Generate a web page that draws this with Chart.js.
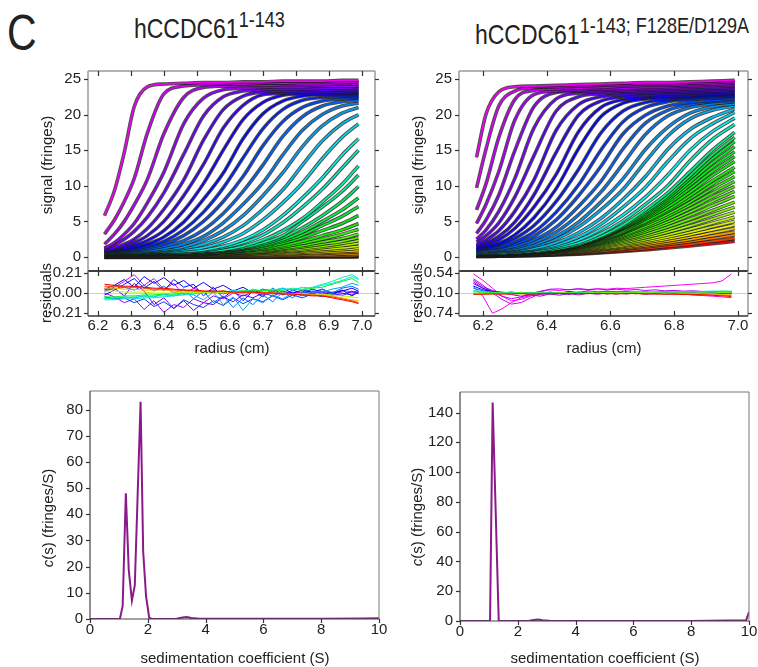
<!DOCTYPE html>
<html><head><meta charset="utf-8">
<script src="https://cdn.jsdelivr.net/npm/chart.js@4.4.1/dist/chart.umd.min.js"></script>
<style>
body{margin:0;background:#fff;width:758px;height:667px;position:relative;overflow:hidden;font-family:"Liberation Sans",Arial,sans-serif;color:#222}
canvas{position:absolute}
.t{position:absolute;white-space:nowrap;line-height:1;transform:scaleX(.82);transform-origin:0 0}
.c{position:absolute;white-space:nowrap;line-height:1;transform:translate(-50%,-50%);font-size:15px}
.v{position:absolute;white-space:nowrap;line-height:1;transform:translate(-50%,-50%) rotate(-90deg);font-size:15px}
.sup{font-size:22px;position:relative;top:-11px}
</style></head><body>
<div class="t" style="left:7px;top:8px;font-size:50px">C</div>
<div class="t" style="left:134px;top:15px;font-size:28px">hCCDC61<span class="sup">1-143</span></div>
<div class="t" style="left:475px;top:21px;font-size:28px">hCCDC61<span class="sup">1-143; F128E/D129A</span></div>
<canvas id="sigL"></canvas><canvas id="resL"></canvas><canvas id="sigR"></canvas><canvas id="resR"></canvas>
<canvas id="csL"></canvas><canvas id="csR"></canvas>
<div class="v" style="left:46px;top:165px">signal (fringes)</div>
<div class="v" style="left:417px;top:165px">signal (fringes)</div>
<div class="v" style="left:45px;top:293px">residuals</div>
<div class="v" style="left:416px;top:293px">residuals</div>
<div class="c" style="left:232px;top:347px">radius (cm)</div>
<div class="c" style="left:604px;top:347px">radius (cm)</div>
<div class="v" style="left:47px;top:518px"><i>c</i>(s) (fringes/S)</div>
<div class="v" style="left:416px;top:517px"><i>c</i>(s) (fringes/S)</div>
<div class="c" style="left:235px;top:657px">sedimentation coefficient (S)</div>
<div class="c" style="left:605px;top:657px">sedimentation coefficient (S)</div>
<script>
// ---------- data ----------
const radiusLeft = [6.22, 6.25, 6.28, 6.31, 6.35, 6.40, 6.46, 6.52, 6.58, 6.64, 6.70, 6.76, 6.82, 6.88, 6.94, 6.99];
const scansLeft = [
[5.8, 9.3, 14.7, 21.1, 23.9, 24.3, 24.4, 24.5, 24.5, 24.6, 24.6, 24.7, 24.7, 24.7, 24.8, 24.8],
[3.2, 5.2, 7.8, 11.0, 17.4, 22.9, 24.0, 24.2, 24.3, 24.3, 24.4, 24.4, 24.5, 24.5, 24.5, 24.6],
[1.8, 3.2, 5.0, 7.3, 10.9, 17.3, 22.4, 23.8, 24.0, 24.1, 24.1, 24.2, 24.2, 24.2, 24.3, 24.3],
[1.2, 2.0, 3.2, 4.7, 7.6, 11.9, 18.7, 22.3, 23.5, 23.7, 23.8, 23.9, 23.9, 24.0, 24.0, 24.0],
[1.2, 1.7, 2.5, 3.6, 5.6, 9.0, 14.4, 19.8, 22.5, 23.3, 23.5, 23.6, 23.6, 23.7, 23.7, 23.8],
[1.0, 1.3, 1.8, 2.5, 4.0, 6.7, 10.8, 16.4, 20.7, 22.6, 23.2, 23.3, 23.4, 23.4, 23.5, 23.5],
[0.9, 1.1, 1.5, 2.0, 3.0, 5.0, 8.6, 13.0, 18.1, 21.3, 22.8, 23.0, 23.1, 23.2, 23.2, 23.3],
[0.9, 1.0, 1.2, 1.6, 2.3, 3.7, 6.5, 10.3, 15.0, 19.3, 21.7, 22.7, 22.9, 22.9, 23.0, 23.0],
[0.9, 1.0, 1.1, 1.3, 1.8, 2.8, 4.9, 8.1, 11.8, 16.6, 20.1, 21.9, 22.6, 22.8, 22.8, 22.8],
[0.9, 0.9, 1.0, 1.1, 1.5, 2.2, 3.8, 6.3, 9.7, 13.9, 18.0, 20.7, 22.0, 22.4, 22.5, 22.5],
[0.8, 0.9, 0.9, 1.0, 1.3, 1.8, 3.0, 5.0, 7.8, 11.3, 15.6, 19.0, 21.0, 21.9, 22.2, 22.3],
[0.8, 0.8, 0.9, 0.9, 1.1, 1.5, 2.3, 3.8, 6.1, 9.2, 12.9, 16.9, 19.7, 21.2, 21.8, 22.0],
[0.8, 0.8, 0.8, 0.9, 0.9, 1.2, 1.8, 2.9, 4.8, 7.4, 10.4, 14.3, 17.8, 20.0, 21.2, 21.6],
[0.7, 0.7, 0.7, 0.8, 0.8, 1.0, 1.4, 2.3, 3.7, 5.8, 8.6, 11.8, 15.5, 18.4, 20.2, 21.0],
[0.7, 0.7, 0.7, 0.7, 0.8, 0.9, 1.2, 1.8, 2.8, 4.4, 6.7, 9.4, 12.9, 16.3, 18.7, 20.0],
[0.7, 0.7, 0.7, 0.7, 0.7, 0.8, 1.0, 1.3, 2.1, 3.3, 5.2, 7.6, 10.4, 13.8, 16.8, 18.7],
[0.6, 0.6, 0.6, 0.6, 0.7, 0.7, 0.8, 1.0, 1.5, 2.4, 3.8, 5.8, 8.3, 11.1, 14.3, 16.6],
[0.6, 0.6, 0.6, 0.6, 0.6, 0.7, 0.7, 0.9, 1.3, 2.0, 3.1, 4.8, 7.0, 9.5, 12.5, 15.0],
[0.55, 0.55, 0.55, 0.6, 0.6, 0.6, 0.6, 0.8, 1.0, 1.5, 2.4, 3.7, 5.4, 7.7, 10.2, 12.8],
[0.5, 0.5, 0.5, 0.5, 0.55, 0.6, 0.7, 0.8, 1.0, 1.3, 2.0, 3.0, 5.0, 7.0, 9.2, 11.5],
[0.47, 0.47, 0.47, 0.48, 0.5, 0.55, 0.6, 0.7, 0.9, 1.2, 1.8, 2.7, 4.1, 5.8, 7.8, 9.9],
[0.44, 0.44, 0.45, 0.46, 0.47, 0.5, 0.55, 0.65, 0.85, 1.15, 1.6, 2.4, 3.5, 5.0, 6.6, 8.3],
[0.4, 0.4, 0.4, 0.42, 0.44, 0.46, 0.5, 0.6, 0.8, 1.1, 1.5, 2.2, 3.1, 4.4, 5.7, 7.1],
[0.38, 0.38, 0.38, 0.39, 0.4, 0.43, 0.47, 0.55, 0.72, 0.95, 1.3, 1.9, 2.7, 3.7, 4.7, 5.8],
[0.35, 0.35, 0.36, 0.36, 0.37, 0.4, 0.44, 0.5, 0.65, 0.85, 1.15, 1.6, 2.2, 3.0, 3.8, 4.7],
[0.3, 0.3, 0.35, 0.35, 0.4, 0.4, 0.5, 0.55, 0.7, 0.85, 1.05, 1.4, 1.9, 2.5, 3.2, 3.9],
[0.3, 0.3, 0.3, 0.3, 0.35, 0.4, 0.45, 0.5, 0.6, 0.75, 0.9, 1.2, 1.6, 2.1, 2.6, 3.2],
[0.25, 0.25, 0.3, 0.3, 0.3, 0.35, 0.4, 0.45, 0.55, 0.65, 0.8, 1.05, 1.4, 1.8, 2.2, 2.7],
[0.23, 0.24, 0.25, 0.27, 0.28, 0.3, 0.35, 0.4, 0.48, 0.58, 0.72, 0.92, 1.18, 1.5, 1.9, 2.3],
[0.2, 0.2, 0.22, 0.24, 0.25, 0.28, 0.32, 0.37, 0.44, 0.52, 0.64, 0.8, 1.0, 1.3, 1.6, 1.9],
[0.17, 0.18, 0.19, 0.2, 0.21, 0.23, 0.27, 0.31, 0.37, 0.44, 0.54, 0.68, 0.85, 1.05, 1.27, 1.5],
[0.14, 0.15, 0.16, 0.17, 0.18, 0.2, 0.23, 0.26, 0.31, 0.37, 0.45, 0.55, 0.68, 0.84, 1.02, 1.2],
[0.11, 0.12, 0.12, 0.13, 0.14, 0.15, 0.17, 0.2, 0.24, 0.28, 0.34, 0.42, 0.52, 0.63, 0.77, 0.9],
[0.08, 0.08, 0.09, 0.09, 0.1, 0.11, 0.13, 0.15, 0.18, 0.22, 0.27, 0.33, 0.41, 0.5, 0.6, 0.7],
[0.05, 0.05, 0.06, 0.06, 0.07, 0.07, 0.08, 0.1, 0.12, 0.14, 0.17, 0.21, 0.26, 0.32, 0.38, 0.45],
[0.02, 0.02, 0.03, 0.03, 0.03, 0.04, 0.04, 0.05, 0.06, 0.07, 0.09, 0.11, 0.14, 0.17, 0.21, 0.25],
[0.0, 0.0, 0.0, 0.01, 0.01, 0.02, 0.02, 0.03, 0.04, 0.05, 0.06, 0.07, 0.09, 0.11, 0.14, 0.17],
[-0.02, -0.02, -0.02, -0.01, -0.01, 0.0, 0.0, 0.01, 0.01, 0.02, 0.03, 0.04, 0.05, 0.07, 0.09, 0.11],
[-0.04, -0.04, -0.03, -0.03, -0.03, -0.02, -0.02, -0.01, -0.01, 0.0, 0.0, 0.01, 0.02, 0.03, 0.04, 0.06],
[-0.06, -0.06, -0.05, -0.05, -0.05, -0.05, -0.04, -0.04, -0.03, -0.03, -0.02, -0.02, -0.01, 0.0, 0.01, 0.02]
];
const radiusRight = [6.18, 6.21, 6.25, 6.30, 6.36, 6.43, 6.50, 6.57, 6.64, 6.71, 6.78, 6.85, 6.92, 6.99];
const scansRight = [
[14.0, 20.1, 23.2, 23.9, 24.0, 24.1, 24.2, 24.3, 24.4, 24.5, 24.5, 24.6, 24.7, 24.8],
[9.7, 15.2, 21.2, 23.3, 23.8, 23.9, 24.0, 24.1, 24.2, 24.3, 24.3, 24.4, 24.5, 24.6],
[6.6, 10.3, 16.8, 22.1, 23.4, 23.6, 23.7, 23.8, 24.0, 24.1, 24.1, 24.2, 24.3, 24.4],
[4.7, 7.4, 12.0, 19.2, 22.8, 23.3, 23.5, 23.6, 23.7, 23.8, 23.9, 24.0, 24.1, 24.2],
[3.3, 5.2, 8.7, 14.9, 21.1, 23.1, 23.3, 23.4, 23.5, 23.6, 23.7, 23.8, 23.9, 24.0],
[2.5, 3.8, 6.4, 11.0, 18.1, 22.2, 23.0, 23.2, 23.3, 23.4, 23.5, 23.6, 23.7, 23.8],
[2.1, 3.0, 4.8, 8.4, 14.2, 20.5, 22.5, 22.9, 23.1, 23.2, 23.3, 23.4, 23.5, 23.6],
[1.7, 2.4, 3.7, 6.4, 10.8, 17.8, 21.4, 22.5, 22.8, 23.0, 23.1, 23.2, 23.3, 23.4],
[1.5, 2.0, 2.9, 4.9, 8.7, 14.7, 19.9, 21.9, 22.5, 22.7, 22.9, 23.0, 23.1, 23.2],
[1.4, 1.7, 2.4, 4.0, 7.0, 11.6, 17.6, 21.0, 22.1, 22.4, 22.6, 22.7, 22.9, 23.0],
[1.2, 1.4, 1.9, 3.1, 5.5, 9.6, 15.2, 19.7, 21.6, 22.2, 22.4, 22.5, 22.7, 22.8],
[1.1, 1.3, 1.7, 2.6, 4.4, 7.8, 12.3, 17.4, 20.5, 21.7, 22.1, 22.3, 22.5, 22.6],
[1.0, 1.2, 1.4, 2.1, 3.5, 6.3, 10.1, 15.0, 19.0, 21.0, 21.8, 22.1, 22.3, 22.4],
[0.9, 1.1, 1.3, 1.8, 2.9, 5.2, 8.6, 12.7, 17.3, 19.9, 21.2, 21.7, 22.0, 22.2],
[0.9, 0.9, 1.1, 1.5, 2.4, 4.2, 7.1, 10.6, 15.2, 18.8, 20.6, 21.4, 21.8, 22.0],
[0.8, 0.8, 1.0, 1.3, 2.0, 3.5, 5.9, 9.1, 13.1, 17.2, 19.8, 21.0, 21.5, 21.8],
[0.7, 0.8, 0.9, 1.1, 1.7, 2.9, 4.9, 7.7, 11.0, 15.1, 18.2, 20.2, 21.1, 21.5],
[0.7, 0.7, 0.8, 1.0, 1.5, 2.5, 4.2, 6.6, 9.5, 13.4, 17.0, 19.4, 20.6, 21.2],
[0.6, 0.6, 0.7, 0.9, 1.2, 2.0, 3.4, 5.4, 8.1, 11.3, 15.1, 17.9, 19.6, 20.8],
[0.5, 0.6, 0.6, 0.8, 1.1, 1.7, 2.8, 4.6, 7.0, 9.8, 13.4, 16.6, 18.7, 20.3],
[0.5, 0.5, 0.6, 0.7, 1.0, 1.5, 2.4, 3.9, 5.9, 8.4, 11.5, 15.0, 17.6, 19.5],
[0.5, 0.5, 0.5, 0.6, 0.8, 1.3, 2.0, 3.3, 5.1, 7.4, 10.0, 13.5, 16.5, 18.6],
[0.5, 0.5, 0.5, 0.6, 0.8, 1.1, 1.8, 2.9, 4.5, 6.6, 9.0, 12.0, 15.0, 17.5],
[0.4, 0.4, 0.5, 0.6, 0.7, 1.1, 1.7, 2.8, 4.3, 6.3, 8.6, 11.4, 14.3, 16.8],
[0.4, 0.4, 0.5, 0.6, 0.7, 1.1, 1.7, 2.7, 4.2, 6.1, 8.3, 11.0, 13.8, 16.2],
[0.4, 0.4, 0.5, 0.6, 0.7, 1.0, 1.7, 2.7, 4.1, 5.9, 8.0, 10.5, 13.2, 15.5],
[0.4, 0.4, 0.5, 0.5, 0.7, 1.0, 1.7, 2.6, 4.0, 5.7, 7.7, 10.1, 12.6, 14.8],
[0.3, 0.4, 0.4, 0.5, 0.7, 1.0, 1.6, 2.6, 3.9, 5.5, 7.4, 9.6, 12.0, 14.1],
[0.3, 0.4, 0.4, 0.5, 0.7, 1.0, 1.6, 2.5, 3.7, 5.3, 7.0, 9.1, 11.4, 13.4],
[0.3, 0.3, 0.4, 0.5, 0.7, 1.0, 1.5, 2.4, 3.5, 5.0, 6.6, 8.6, 10.7, 12.6],
[0.3, 0.3, 0.4, 0.5, 0.7, 1.0, 1.5, 2.3, 3.4, 4.8, 6.4, 8.2, 10.2, 12.0],
[0.3, 0.3, 0.4, 0.5, 0.7, 0.9, 1.5, 2.2, 3.3, 4.6, 6.0, 7.7, 9.6, 11.3],
[0.3, 0.3, 0.4, 0.5, 0.6, 0.9, 1.4, 2.1, 3.1, 4.3, 5.7, 7.3, 9.0, 10.6],
[0.25, 0.3, 0.36, 0.45, 0.6, 0.89, 1.36, 2.05, 2.94, 4.06, 5.33, 6.8, 8.41, 9.9],
[0.24, 0.28, 0.34, 0.43, 0.59, 0.85, 1.3, 1.94, 2.77, 3.81, 4.97, 6.33, 7.81, 9.2],
[0.22, 0.26, 0.33, 0.41, 0.56, 0.81, 1.23, 1.83, 2.6, 3.55, 4.62, 5.85, 7.21, 8.5],
[0.21, 0.25, 0.31, 0.39, 0.52, 0.76, 1.14, 1.69, 2.39, 3.24, 4.21, 5.31, 6.53, 7.7],
[0.19, 0.23, 0.29, 0.36, 0.49, 0.71, 1.07, 1.57, 2.2, 2.97, 3.84, 4.84, 5.94, 7.0],
[0.18, 0.21, 0.27, 0.34, 0.46, 0.66, 0.99, 1.44, 2.0, 2.7, 3.48, 4.36, 5.34, 6.3],
[0.16, 0.2, 0.24, 0.31, 0.42, 0.6, 0.9, 1.31, 1.81, 2.42, 3.11, 3.88, 4.75, 5.6],
[0.15, 0.18, 0.22, 0.28, 0.39, 0.55, 0.82, 1.19, 1.63, 2.18, 2.79, 3.47, 4.24, 5.0],
[0.13, 0.16, 0.2, 0.26, 0.35, 0.51, 0.75, 1.09, 1.49, 1.98, 2.52, 3.13, 3.81, 4.5],
[0.12, 0.15, 0.18, 0.23, 0.32, 0.46, 0.68, 0.98, 1.34, 1.77, 2.25, 2.78, 3.39, 4.0],
[0.1, 0.13, 0.16, 0.21, 0.29, 0.41, 0.61, 0.87, 1.18, 1.56, 1.98, 2.44, 2.96, 3.5],
[0.09, 0.11, 0.14, 0.18, 0.26, 0.37, 0.55, 0.78, 1.06, 1.39, 1.76, 2.16, 2.62, 3.1],
[0.07, 0.09, 0.12, 0.16, 0.22, 0.32, 0.47, 0.67, 0.89, 1.17, 1.48, 1.81, 2.2, 2.6],
[0.06, 0.08, 0.1, 0.13, 0.18, 0.27, 0.4, 0.57, 0.76, 1.0, 1.26, 1.54, 1.86, 2.2]
];
const resRadiusLeft = [6.22, 6.25, 6.28, 6.31, 6.34, 6.37, 6.40, 6.43, 6.46, 6.49, 6.52, 6.55, 6.58, 6.61, 6.64, 6.67, 6.70, 6.73, 6.76, 6.79, 6.82, 6.85, 6.88, 6.91, 6.94, 6.97, 6.99];
const residualsLeft = [
[0.03, 0.06, 0.12, 0.19, 0.08, 0.15, 0.04, 0.1, -0.02, 0.05, 0.01, 0.03, -0.01, 0.02, 0.0, 0.03, 0.01, -0.01, 0.02, 0.0, 0.01, -0.01, 0.02, 0.0, 0.03, 0.01, 0.02],
[0.0, -0.04, -0.1, -0.06, -0.17, -0.08, -0.2, -0.12, -0.15, -0.06, -0.1, -0.03, -0.06, 0.0, -0.03, 0.01, -0.02, 0.02, -0.01, 0.01, -0.02, 0.01, 0.0, -0.02, -0.01, 0.01, 0.0],
[0.02, 0.05, -0.03, 0.1, 0.02, -0.12, -0.05, -0.16, -0.08, -0.18, -0.1, -0.12, -0.04, -0.09, -0.02, -0.05, 0.0, -0.03, 0.01, -0.02, 0.0, 0.02, -0.01, 0.01, 0.0, -0.02, 0.01],
[0.04, 0.08, 0.14, 0.06, 0.17, 0.1, 0.16, 0.08, 0.13, 0.05, 0.11, 0.04, 0.08, 0.02, 0.06, 0.0, 0.04, 0.02, 0.05, 0.0, 0.03, 0.01, 0.04, 0.0, 0.02, 0.05, 0.02],
[-0.02, 0.03, 0.09, 0.15, 0.05, 0.12, 0.02, 0.14, 0.06, 0.09, -0.03, 0.06, -0.05, 0.03, -0.08, 0.02, -0.04, 0.05, -0.02, 0.03, 0.0, 0.04, 0.01, -0.02, 0.03, -0.03, 0.01],
[-0.04, -0.06, -0.05, -0.1, -0.06, -0.14, -0.09, -0.16, -0.07, -0.12, -0.15, -0.08, -0.13, -0.05, -0.11, -0.06, -0.09, -0.03, -0.07, -0.02, -0.05, -0.01, -0.04, 0.0, -0.03, 0.02, -0.01],
[0.05, 0.04, 0.06, 0.03, 0.08, 0.02, 0.07, 0.0, 0.04, -0.06, 0.02, -0.1, -0.03, -0.15, -0.05, -0.12, -0.02, -0.09, 0.01, -0.05, 0.02, -0.02, 0.04, 0.0, 0.05, 0.07, 0.04],
[-0.05, -0.06, -0.04, -0.05, -0.03, -0.04, -0.01, -0.03, 0.0, -0.02, -0.07, 0.01, -0.12, -0.04, -0.18, -0.06, -0.1, -0.02, -0.06, 0.0, -0.03, 0.02, 0.01, 0.04, 0.06, 0.1, 0.08],
[-0.07, -0.07, -0.06, -0.06, -0.05, -0.05, -0.04, -0.03, -0.02, -0.01, 0.0, 0.02, 0.0, 0.03, 0.01, 0.04, 0.02, 0.03, 0.05, 0.03, 0.06, 0.05, 0.08, 0.1, 0.13, 0.17, 0.14],
[-0.06, -0.05, -0.05, -0.04, -0.04, -0.03, -0.03, -0.02, -0.01, 0.0, 0.01, 0.0, 0.02, 0.01, 0.03, 0.02, 0.03, 0.04, 0.03, 0.05, 0.04, 0.06, 0.09, 0.12, 0.16, 0.19, 0.15],
[-0.04, -0.04, -0.03, -0.03, -0.02, -0.02, -0.01, -0.01, 0.0, 0.0, 0.01, 0.01, 0.02, 0.01, 0.02, 0.02, 0.03, 0.02, 0.03, 0.04, 0.03, 0.05, 0.06, 0.09, 0.12, 0.15, 0.11],
[0.02, 0.02, 0.01, 0.01, 0.01, 0.0, 0.0, 0.0, 0.01, 0.0, 0.01, 0.0, 0.01, 0.0, 0.01, 0.0, 0.0, -0.01, 0.0, -0.01, -0.01, -0.02, -0.01, -0.02, -0.03, -0.04, -0.05],
[0.05, 0.05, 0.04, 0.04, 0.03, 0.03, 0.03, 0.02, 0.02, 0.02, 0.01, 0.02, 0.01, 0.01, 0.02, 0.0, 0.01, 0.0, 0.0, -0.01, 0.0, -0.02, -0.02, -0.03, -0.05, -0.07, -0.08],
[0.07, 0.07, 0.06, 0.06, 0.05, 0.04, 0.04, 0.03, 0.03, 0.02, 0.02, 0.01, 0.02, 0.0, 0.01, 0.01, 0.0, 0.0, -0.01, -0.01, -0.02, -0.02, -0.03, -0.04, -0.06, -0.08, -0.1],
[0.09, 0.08, 0.07, 0.07, 0.06, 0.05, 0.05, 0.04, 0.03, 0.03, 0.02, 0.02, 0.02, 0.01, 0.01, 0.01, 0.0, 0.0, -0.01, -0.01, -0.02, -0.03, -0.03, -0.05, -0.07, -0.09, -0.11]
];
const resRadiusRight = [6.17, 6.20, 6.23, 6.26, 6.29, 6.32, 6.35, 6.38, 6.41, 6.44, 6.47, 6.50, 6.53, 6.56, 6.59, 6.62, 6.65, 6.68, 6.71, 6.74, 6.77, 6.80, 6.83, 6.86, 6.89, 6.92, 6.95, 6.98];
const residualsRight = [
[0.1, -0.2, -0.74, -0.6, -0.4, -0.25, -0.18, -0.15, -0.12, -0.1, -0.13, -0.1, -0.12, -0.09, -0.12, -0.1, -0.13, -0.1, -0.12, -0.14, -0.12, -0.15, -0.13, -0.17, -0.18, -0.2, -0.22, -0.25],
[0.5, 0.3, 0.05, -0.2, -0.35, -0.3, -0.2, -0.05, 0.0, -0.02, 0.01, 0.02, 0.0, 0.03, 0.02, 0.05, 0.04, 0.06, 0.08, 0.1, 0.12, 0.14, 0.16, 0.18, 0.2, 0.22, 0.28, 0.5],
[0.35, 0.15, -0.1, -0.3, -0.45, -0.4, -0.25, -0.12, -0.08, -0.1, -0.05, -0.08, -0.03, -0.06, -0.04, -0.07, -0.05, -0.08, -0.06, -0.09, -0.07, -0.1, -0.08, -0.11, -0.1, -0.12, -0.11, -0.12],
[0.25, 0.05, -0.08, -0.2, -0.28, -0.22, -0.12, -0.05, 0.02, 0.03, 0.0, 0.04, 0.01, 0.03, 0.0, 0.02, -0.01, 0.01, -0.02, 0.0, -0.03, -0.02, -0.04, -0.03, -0.05, -0.06, -0.05, -0.08],
[0.3, 0.1, -0.02, -0.1, -0.15, -0.2, -0.16, -0.2, -0.13, -0.17, -0.12, -0.16, -0.11, -0.14, -0.1, -0.13, -0.09, -0.12, -0.1, -0.11, -0.09, -0.1, -0.12, -0.1, -0.11, -0.13, -0.12, -0.14],
[0.2, 0.05, -0.05, -0.08, -0.12, -0.1, -0.15, -0.09, -0.13, -0.08, -0.14, -0.07, -0.12, -0.09, -0.13, -0.08, -0.12, -0.1, -0.14, -0.09, -0.12, -0.1, -0.13, -0.11, -0.12, -0.1, -0.13, -0.12],
[0.12, 0.0, -0.06, -0.1, -0.07, -0.12, -0.08, -0.13, -0.07, -0.11, -0.06, -0.12, -0.08, -0.1, -0.06, -0.11, -0.08, -0.12, -0.09, -0.11, -0.07, -0.1, -0.08, -0.09, -0.1, -0.08, -0.1, -0.09],
[0.05, -0.03, -0.08, -0.07, -0.11, -0.08, -0.1, -0.06, -0.1, -0.08, -0.11, -0.09, -0.07, -0.1, -0.08, -0.06, -0.09, -0.07, -0.1, -0.08, -0.06, -0.08, -0.07, -0.09, -0.06, -0.08, -0.07, -0.06],
[-0.02, -0.06, -0.08, -0.09, -0.08, -0.1, -0.09, -0.08, -0.1, -0.09, -0.08, -0.1, -0.09, -0.08, -0.07, -0.09, -0.08, -0.07, -0.08, -0.06, -0.07, -0.06, -0.05, -0.06, -0.05, -0.04, -0.05, -0.04],
[-0.06, -0.08, -0.09, -0.1, -0.1, -0.09, -0.1, -0.11, -0.1, -0.09, -0.1, -0.09, -0.1, -0.08, -0.09, -0.08, -0.09, -0.07, -0.08, -0.07, -0.06, -0.07, -0.06, -0.05, -0.06, -0.05, -0.04, -0.05],
[-0.1, -0.11, -0.1, -0.11, -0.11, -0.1, -0.11, -0.1, -0.11, -0.1, -0.1, -0.11, -0.1, -0.1, -0.09, -0.1, -0.1, -0.09, -0.1, -0.09, -0.1, -0.1, -0.09, -0.1, -0.09, -0.1, -0.08, -0.09],
[-0.12, -0.12, -0.12, -0.11, -0.12, -0.11, -0.12, -0.11, -0.12, -0.11, -0.11, -0.12, -0.11, -0.11, -0.12, -0.11, -0.11, -0.12, -0.11, -0.12, -0.12, -0.12, -0.13, -0.12, -0.13, -0.13, -0.14, -0.14],
[-0.13, -0.13, -0.12, -0.13, -0.12, -0.12, -0.13, -0.12, -0.12, -0.11, -0.12, -0.12, -0.11, -0.12, -0.12, -0.11, -0.12, -0.12, -0.13, -0.12, -0.13, -0.13, -0.14, -0.14, -0.15, -0.16, -0.17, -0.18],
[-0.14, -0.14, -0.13, -0.13, -0.13, -0.12, -0.13, -0.12, -0.12, -0.12, -0.11, -0.12, -0.12, -0.11, -0.12, -0.13, -0.12, -0.11, -0.13, -0.12, -0.14, -0.13, -0.15, -0.14, -0.16, -0.17, -0.19, -0.21]
];
const sedLeft = [0, 0.5, 1.0, 1.04, 1.13, 1.24, 1.34, 1.45, 1.55, 1.75, 1.84, 1.94, 2.05, 2.15, 3.0, 3.2, 3.35, 3.5, 3.8, 6.0, 8.0, 9.5, 10];
const csLeft = [0, 0, 0, 0.3, 5, 48, 18.8, 7, 12.8, 83, 25.8, 8.6, 0.4, 0, 0.1, 0.6, 0.8, 0.4, 0.1, 0.1, 0.1, 0.2, 0.3];
const sedRight = [0, 0.5, 1.0, 1.04, 1.13, 1.34, 1.5, 2.4, 2.55, 2.7, 2.85, 3.1, 5, 8, 9.9, 10];
const csRight = [0, 0, 0, 0, 146.7, 0, 0, 0.1, 0.6, 1.0, 0.5, 0.1, 0.05, 0.05, 0.5, 6];
const xTicksLeft = [6.2, 6.3, 6.4, 6.5, 6.6, 6.7, 6.8, 6.9, 7.0];
const xTicksRight = [6.2, 6.4, 6.6, 6.8, 7.0];
const signalTicks = [0, 5, 10, 15, 20, 25];
const resTicksLeft = [-0.21, 0, 0.21];
const resTicksRight = [-0.74, -0.10, 0.54];
const sedTicks = [0, 2, 4, 6, 8, 10];
const csTicksLeft = [0, 10, 20, 30, 40, 50, 60, 70, 80];
const csTicksRight = [0, 20, 40, 60, 80, 100, 120, 140];
// styles (not data)
const hueStopsLeft = [[0, 300], [39, 0]];
const hueStopsRight = [[0, 300], [20, 180], [24, 130], [36, 95], [41, 60], [44, 30], [46, 0]];
const resHueLeft = [295, 280, 265, 245, 235, 225, 212, 200, 185, 160, 125, 75, 45, 15, 0];
const resHueRight = [300, 300, 290, 285, 275, 255, 240, 215, 185, 130, 90, 55, 25, 0];

// ---------- rendering ----------
Chart.defaults.font.family = '"Liberation Sans", Arial, sans-serif';
Chart.defaults.font.size = 15;
Chart.defaults.color = '#222';

const framePlugin = {
  id: 'frame',
  beforeDatasetsDraw(chart, args, o) {
    if (o.refLine === undefined) return;
    const {ctx, chartArea: a, scales: {y}} = chart;
    const py = Math.round(y.getPixelForValue(o.refLine)) + 0.5;
    ctx.save(); ctx.strokeStyle = '#cfcfcf'; ctx.lineWidth = 1;
    ctx.beginPath(); ctx.moveTo(a.left, py); ctx.lineTo(a.right, py); ctx.stroke(); ctx.restore();
  },
  afterDraw(chart, args, o) {
    const {ctx, chartArea: a, scales: {x, y}} = chart;
    ctx.save();
    const ln = (x1, y1, x2, y2, c, w) => { ctx.strokeStyle = c; ctx.lineWidth = w; ctx.beginPath(); ctx.moveTo(x1, y1); ctx.lineTo(x2, y2); ctx.stroke(); };
    const b = o.borders;
    ln(a.left, a.top, a.right, a.top, b.top[0], b.top[1]);
    ln(a.right, a.top, a.right, a.bottom, b.right[0], b.right[1]);
    ln(a.left, a.bottom, a.right, a.bottom, b.bottom[0], b.bottom[1]);
    ln(a.left, a.top, a.left, a.bottom, b.left[0], b.left[1]);
    const tc = '#333';
    (o.xTicks || []).forEach(v => {
      const px = Math.round(x.getPixelForValue(v)) + 0.5;
      if (o.xTop) ln(px, a.top - (o.xTopOut || 0), px, a.top + o.xTop, tc, 1.2);
      if (o.xBottom) ln(px, a.bottom + (o.xBottomOut || 0), px, a.bottom - o.xBottom, tc, 1.2);
    });
    (o.yTicks || []).forEach(v => {
      const py = Math.round(y.getPixelForValue(v)) + 0.5;
      if (o.yLeft) ln(a.left, py, a.left - o.yLeft, py, tc, 1.2);
      if (o.yRight) ln(a.right, py, a.right + o.yRight, py, tc, 1.2);
    });
    ctx.restore();
  }
};

function axis(min, max, ticks, show, size, isX, fmt, pad) {
  return {
    type: 'linear', min, max, display: show,
    afterBuildTicks: s => { s.ticks = ticks.map(v => ({value: v})); },
    afterFit: s => {
      if (!show) return;
      if (isX) { s.height = size; s.paddingLeft = 0; s.paddingRight = 0; }
      else { s.width = size; s.paddingTop = 0; s.paddingBottom = 0; }
    },
    grid: {display: false, drawTicks: false}, border: {display: false},
    ticks: {padding: pad, autoSkip: false, maxRotation: 0, minRotation: 0, color: '#222', font: {size: 15}, callback: v => fmt(v)}
  };
}

function build(id, box, datasets, sx, sy, frame) {
  const cv = document.getElementById(id);
  cv.width = box.w; cv.height = box.h;
  cv.style.left = box.l + 'px'; cv.style.top = box.t + 'px';
  return new Chart(cv, {
    type: 'line',
    data: {datasets},
    options: {
      responsive: false, animation: false, devicePixelRatio: 1, events: [],
      layout: {autoPadding: false, padding: box.pad},
      plugins: {legend: {display: false}, tooltip: {enabled: false}, frame},
      scales: {x: sx, y: sy}
    },
    plugins: [framePlugin]
  });
}

function hueAt(k, stops) {
  for (let i = 1; i < stops.length; i++) {
    const [k0, h0] = stops[i - 1], [k1, h1] = stops[i];
    if (k <= k1) return h0 + (h1 - h0) * (k - k0) / (k1 - k0);
  }
  return stops[stops.length - 1][1];
}
function scanSets(radii, scans, stops) {
  const sets = [];
  scans.forEach((vals, k) => {
    const hue = hueAt(k, stops);
    const pts = radii.map((r, i) => ({x: r, y: vals[i]}));
    sets.push({data: pts, borderColor: `hsl(${hue.toFixed(0)},100%,47%)`, borderWidth: 1.7, pointRadius: 0, cubicInterpolationMode: 'monotone', order: 2 * k});
    sets.push({data: pts, borderColor: 'rgba(25,25,25,0.78)', borderWidth: 3.6, pointRadius: 0, cubicInterpolationMode: 'monotone', order: 2 * k + 1});
  });
  return sets;
}
function resSets(radii, series, hues) {
  return series.map((vals, k) => ({
    data: radii.map((r, i) => ({x: r, y: vals[i]})),
    borderColor: `hsl(${hues[k]},100%,48%)`, borderWidth: 1, pointRadius: 0, tension: 0, order: series.length - k
  }));
}
function csSet(s, c) {
  return [{data: s.map((v, i) => ({x: v, y: c[i]})), borderColor: '#8a1a8a', borderWidth: 2, pointRadius: 0, tension: 0}];
}

const f1 = v => v.toFixed(1), f0 = v => String(v), f2 = v => v.toFixed(2);
const sigFrame = (xt) => ({borders: {top: ['#9a9a9a', 1.5], right: ['#9a9a9a', 1.5], bottom: ['#333', 1.5], left: ['#9a9a9a', 1.5]},
  xTicks: xt, xTop: 5, yTicks: signalTicks, yLeft: 4, yRight: 4});
const resFrame = (xt, yt, ref) => ({borders: {top: ['#333', 1.5], right: ['#9a9a9a', 1.5], bottom: ['#333', 1.5], left: ['#666', 1.5]},
  xTicks: xt, xTop: 5, xTopOut: 4, xBottom: 5, yTicks: yt, yLeft: 4, yRight: 4, refLine: ref});
const csFrame = (yt) => ({borders: {top: ['#777', 1], right: ['#777', 1], bottom: ['#444', 1.2], left: ['#444', 1.2]},
  xTicks: sedTicks, xBottom: -4, yTicks: yt, yLeft: 4});

build('sigL', {l: 30, t: 60, w: 350, h: 213, pad: {top: 11, right: 5, bottom: 2, left: 0}},
  scanSets(radiusLeft, scansLeft, hueStopsLeft),
  axis(6.17, 7.04, xTicksLeft, false, 0, true, f1, 0),
  axis(-1.97, 26.12, signalTicks, true, 58, false, f0, 7), sigFrame(xTicksLeft));
build('resL', {l: 30, t: 262, w: 350, h: 98, pad: {top: 9, right: 5, bottom: 0, left: 0}},
  resSets(resRadiusLeft, residualsLeft, resHueLeft),
  axis(6.17, 7.04, xTicksLeft, true, 44, true, f1, 1),
  axis(-0.238, 0.228, resTicksLeft, true, 58, false, f2, 6), resFrame(xTicksLeft, resTicksLeft, 0));
build('sigR', {l: 400, t: 60, w: 355, h: 213, pad: {top: 11, right: 7, bottom: 2, left: 0}},
  scanSets(radiusRight, scansRight, hueStopsRight),
  axis(6.125, 7.032, xTicksRight, false, 0, true, f1, 0),
  axis(-1.97, 26.12, signalTicks, true, 59, false, f0, 7), sigFrame(xTicksRight));
build('resR', {l: 400, t: 262, w: 355, h: 98, pad: {top: 9, right: 7, bottom: 0, left: 0}},
  resSets(resRadiusRight, residualsRight, resHueRight),
  axis(6.125, 7.032, xTicksRight, true, 44, true, f1, 1),
  axis(-0.825, 0.594, resTicksRight, true, 59, false, f2, 6), resFrame(xTicksRight, resTicksRight, -0.10));
build('csL', {l: 30, t: 380, w: 360, h: 287, pad: {top: 11, right: 11, bottom: 0, left: 0}},
  csSet(sedLeft, csLeft),
  axis(0, 10, sedTicks, true, 48, true, f0, 2),
  axis(0, 87.1, csTicksLeft, true, 60, false, f0, 7), csFrame(csTicksLeft));
build('csR', {l: 400, t: 380, w: 358, h: 287, pad: {top: 12, right: 9, bottom: 0, left: 0}},
  csSet(sedRight, csRight),
  axis(0, 10, sedTicks, true, 46, true, f0, 2),
  axis(0, 153.8, csTicksRight, true, 60, false, f0, 7), csFrame(csTicksRight));
</script>
</body></html>
